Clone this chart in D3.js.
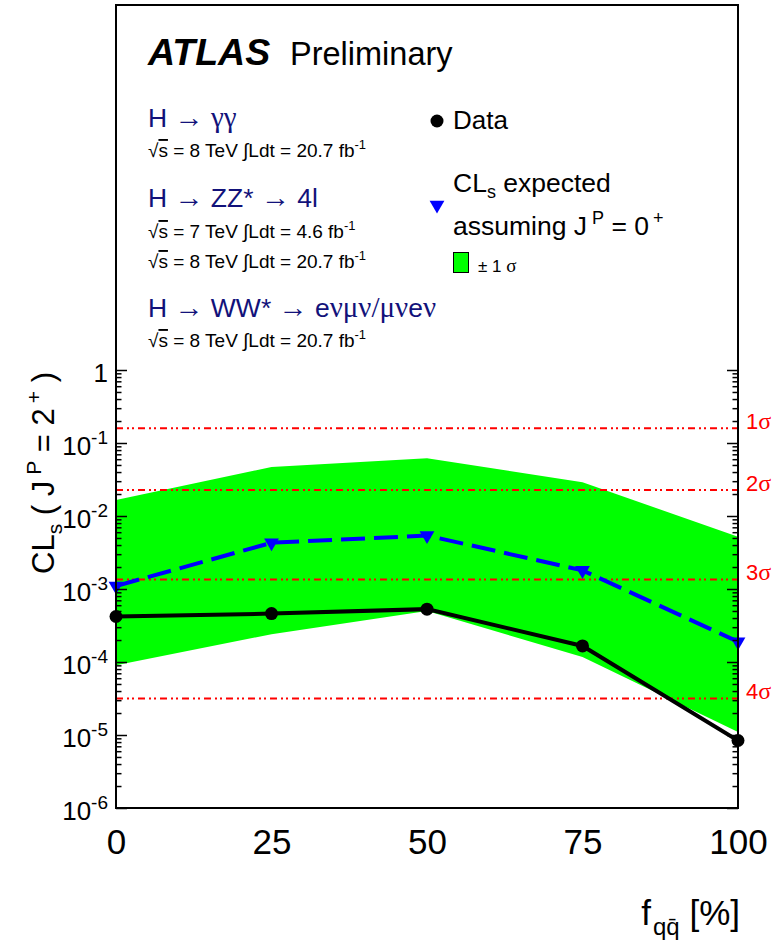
<!DOCTYPE html>
<html>
<head>
<meta charset="utf-8">
<script src="https://cdn.jsdelivr.net/npm/d3@7"></script>
<style>
  body { margin: 0; background: #fff; }
  svg { display: block; }
  text { font-family: "Liberation Sans", Arial, Helvetica, sans-serif; }
  .sym { font-family: "Liberation Serif", "Times New Roman", serif; }
</style>
</head>
<body>
<div id="chart"></div>
<script>
// f_qqbar fraction [%]
const fqq = [0, 25, 50, 75, 100]
// observed CLs (data)
const observed = [4.2e-4, 4.6e-4, 5.3e-4, 1.66e-4, 8.4e-6]
// expected CLs assuming 0+
const expected = [1.1e-3, 4.3e-3, 5.4e-3, 1.8e-3, 1.9e-4]
// +-1 sigma band
const bandHigh = [1.65e-2, 4.7e-2, 6.2e-2, 2.9e-2, 5.2e-3]
const bandLow = [9.0e-5, 2.4e-4, 5.0e-4, 1.17e-4, 1.1e-5]
// significance reference lines
const sigmaValues = [0.1587, 0.02275, 0.00135, 3.17e-5]
const sigmaLabels = ['1', '2', '3', '4']
// axis ticks
const xTicks = [0, 25, 50, 75, 100]
const yTicks = [1, 1e-1, 1e-2, 1e-3, 1e-4, 1e-5, 1e-6]
const yTickExp = ['', '-1', '-2', '-3', '-4', '-5', '-6']

const width = 776,
  height = 944
const plot = { left: 116, right: 738, top: 5, bottom: 808 }

const svg = d3
  .select('#chart')
  .append('svg')
  .attr('width', width)
  .attr('height', height)

const x = d3.scaleLinear().domain([0, 100]).range([plot.left, plot.right])
const y = d3.scaleLog().domain([1e-6, 1e5]).range([plot.bottom, plot.top])

// minor ticks 2..9 per decade
const minorTicks = []
for (let k = -6; k < 0; k++) {
  for (let m = 2; m <= 9; m++) minorTicks.push(m * Math.pow(10, k))
}

svg
  .append('defs')
  .append('clipPath')
  .attr('id', 'clip')
  .append('rect')
  .attr('x', plot.left)
  .attr('y', plot.top)
  .attr('width', plot.right - plot.left)
  .attr('height', plot.bottom - plot.top)

const g = svg.append('g').attr('clip-path', 'url(#clip)')

// green band
const area = d3
  .area()
  .x((d, i) => x(fqq[i]))
  .y0((d, i) => y(bandLow[i]))
  .y1((d, i) => y(bandHigh[i]))
g.append('path').attr('d', area(fqq)).attr('fill', '#00ff00')

// sigma lines
g.selectAll('.sigma')
  .data(sigmaValues)
  .enter()
  .append('line')
  .attr('x1', plot.left)
  .attr('x2', plot.right)
  .attr('y1', (d) => y(d))
  .attr('y2', (d) => y(d))
  .attr('stroke', '#ff0000')
  .attr('stroke-width', 2)
  .attr('stroke-dasharray', '7,4,2,3,2,4')

// expected line
const lineExp = d3
  .line()
  .x((d, i) => x(fqq[i]))
  .y((d) => y(d))
g.append('path')
  .attr('d', lineExp(expected))
  .attr('fill', 'none')
  .attr('stroke', '#0000ff')
  .attr('stroke-width', 4)
  .attr('stroke-dasharray', '24,9')

// observed line
g.append('path')
  .attr('d', lineExp(observed))
  .attr('fill', 'none')
  .attr('stroke', '#000')
  .attr('stroke-width', 4)

// markers (not clipped)
const tri = d3.symbol().type(d3.symbolTriangle).size(95)
svg
  .selectAll('.exp-pt')
  .data(expected)
  .enter()
  .append('path')
  .attr('d', tri)
  .attr('transform', (d, i) => `translate(${x(fqq[i])},${y(d)}) rotate(180)`)
  .attr('fill', '#0000ff')

svg
  .selectAll('.obs-pt')
  .data(observed)
  .enter()
  .append('circle')
  .attr('cx', (d, i) => x(fqq[i]))
  .attr('cy', (d) => y(d))
  .attr('r', 6.5)
  .attr('fill', '#000')

// axes
const axL = svg.append('g').attr('transform', `translate(${plot.left},0)`)
axL.call(d3.axisLeft(y).tickValues(yTicks).tickSize(-11).tickFormat(''))
axL.append('g').call(d3.axisLeft(y).tickValues(minorTicks).tickSize(-5.5).tickFormat(''))
const axR = svg.append('g').attr('transform', `translate(${plot.right},0)`)
axR.call(d3.axisRight(y).tickValues(yTicks).tickSize(-11).tickFormat(''))
axR.append('g').call(d3.axisRight(y).tickValues(minorTicks).tickSize(-5.5).tickFormat(''))
svg.selectAll('.domain').remove()
svg.selectAll('.tick line').attr('stroke', '#000').attr('stroke-width', 1.5)

// y tick labels
const yLab = svg
  .selectAll('.ylab')
  .data(yTicks)
  .enter()
  .append('text')
  .attr('x', 108)
  .attr('y', (d) => y(d) + 12)
  .attr('text-anchor', 'end')
  .attr('font-size', 26)
yLab.append('tspan').text((d, i) => (yTickExp[i] ? '10' : '1'))
yLab
  .append('tspan')
  .attr('dy', -11)
  .attr('font-size', 19)
  .text((d, i) => yTickExp[i])

// x axis labels
const axB = svg.append('g').attr('transform', `translate(0,${plot.bottom})`)
axB.call(d3.axisBottom(x).tickValues(xTicks).tickSize(0).tickPadding(21))
axB.select('.domain').remove()
axB
  .selectAll('text')
  .attr('font-size', 35)
  .attr('font-family', '"Liberation Sans", Arial, sans-serif')
  .attr('fill', '#000')

// frame
svg
  .append('rect')
  .attr('x', plot.left)
  .attr('y', plot.top)
  .attr('width', plot.right - plot.left)
  .attr('height', plot.bottom - plot.top)
  .attr('fill', 'none')
  .attr('stroke', '#000')
  .attr('stroke-width', 2)

// sigma labels
const sig = svg
  .selectAll('.siglab')
  .data(sigmaValues)
  .enter()
  .append('text')
  .attr('x', 746)
  .attr('y', (d) => y(d) + 1)
  .attr('font-size', 22)
  .attr('fill', '#ff0000')
sig.append('tspan').text((d, i) => sigmaLabels[i])
sig.append('tspan').attr('class', 'sym').attr('font-size', 24).text('σ')

// y axis title
const yt = svg
  .append('text')
  .attr('transform', 'translate(54,372) rotate(-90)')
  .attr('text-anchor', 'end')
  .attr('font-size', 31)
yt.append('tspan').text('CL')
yt.append('tspan').attr('font-size', 21).attr('dy', 8).text('s')
yt.append('tspan').attr('dy', -8).text(' ( J')
yt.append('tspan').attr('font-size', 21).attr('dy', -13).attr('dx', 6).text('P')
yt.append('tspan').attr('dy', 13).text(' = 2')
yt.append('tspan').attr('font-size', 21).attr('dy', -13).attr('dx', 5).text('+')
yt.append('tspan').attr('dy', 13).text(' )')

// x axis title
const xt = svg
  .append('text')
  .attr('x', 740)
  .attr('y', 925)
  .attr('text-anchor', 'end')
  .attr('font-size', 35)
xt.append('tspan').text('f')
xt.append('tspan').attr('font-size', 24).attr('dy', 10).attr('dx', 2).text('qq\u0304')
xt.append('tspan').attr('dy', -10).text(' [%]')

// ATLAS label
svg
  .append('text')
  .attr('x', 148)
  .attr('y', 65)
  .attr('font-size', 37.5)
  .attr('font-weight', 'bold')
  .attr('font-style', 'italic')
  .text('ATLAS')
svg.append('text').attr('x', 290).attr('y', 65).attr('font-size', 32.5).text('Preliminary')

// channel descriptions
const navy = '#12127a'
function lumiLine(yy, sqrt, lumi) {
  const t = svg.append('text').attr('x', 148).attr('y', yy).attr('font-size', 19)
  t.append('tspan').text('\u221A')
  t.append('tspan').attr('text-decoration', 'overline').text('s')
  t.append('tspan').text(` = ${sqrt} TeV \u222BLdt = ${lumi} fb`)
  t.append('tspan').attr('font-size', 13).attr('dy', -8).text('-1')
}
function channel(yy, parts) {
  const t = svg.append('text').attr('x', 148).attr('y', yy).attr('font-size', 26.5).attr('fill', navy)
  parts.forEach((p) => {
    const s = t.append('tspan').text(p[0])
    if (p[1]) s.attr('class', 'sym').attr('font-size', 29)
  })
}
channel(127, [['H '], ['\u2192', 1], [' '], ['\u03B3\u03B3', 1]])
lumiLine(157, 8, '20.7')
channel(207, [['H '], ['\u2192', 1], [' ZZ* '], ['\u2192', 1], [' 4l']])
lumiLine(238, 7, '4.6')
lumiLine(268, 8, '20.7')
channel(317, [['H '], ['\u2192', 1], [' WW* '], ['\u2192', 1], [' e'], ['\u03BD\u03BC\u03BD/\u03BC\u03BD', 1], ['e'], ['\u03BD', 1]])
lumiLine(347, 8, '20.7')

// legend
svg.append('circle').attr('cx', 437).attr('cy', 121).attr('r', 6.5).attr('fill', '#000')
svg.append('text').attr('x', 453).attr('y', 129).attr('font-size', 26).text('Data')
svg
  .append('path')
  .attr('d', tri)
  .attr('transform', 'translate(437,205) rotate(180)')
  .attr('fill', '#0000ff')
const l1 = svg.append('text').attr('x', 453).attr('y', 192).attr('font-size', 26.5)
l1.append('tspan').text('CL')
l1.append('tspan').attr('font-size', 18).attr('dy', 6).text('s')
l1.append('tspan').attr('dy', -6).text(' expected')
const l2 = svg.append('text').attr('x', 453).attr('y', 235).attr('font-size', 26.5)
l2.append('tspan').text('assuming J')
l2.append('tspan').attr('font-size', 18).attr('dy', -11).attr('dx', 5).text('P')
l2.append('tspan').attr('dy', 11).text(' = 0')
l2.append('tspan').attr('font-size', 18).attr('dy', -11).attr('dx', 4).text('+')
svg
  .append('rect')
  .attr('x', 453.5)
  .attr('y', 252.5)
  .attr('width', 15)
  .attr('height', 20)
  .attr('fill', '#00ff00')
  .attr('stroke', '#000')
  .attr('stroke-width', 1)
const l3 = svg.append('text').attr('x', 478).attr('y', 272).attr('font-size', 17)
l3.append('tspan').text('\u00B1 1 ')
l3.append('tspan').attr('class', 'sym').attr('font-size', 19).text('\u03C3')
</script>
</body>
</html>
